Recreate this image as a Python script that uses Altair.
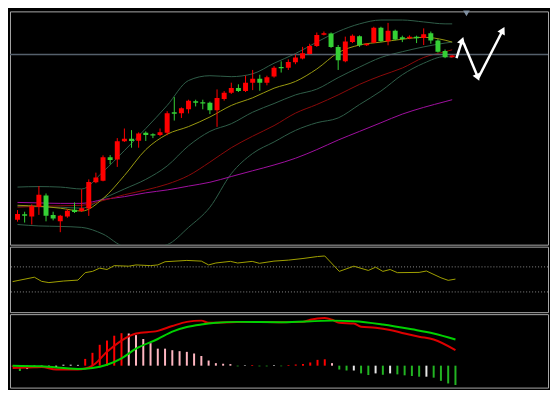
import math
import altair as alt
import pandas as pd

# ---------------- data ----------------
opens = [30,35.7,33.3,43.3,55.3,35,28.3,33.3,40.3,39,
         41.7,69,70.7,95,92.7,111.7,114.3,112.3,120.7,119,
         118.3,120.7,142,141,145,153.3,152.3,151.7,144,155.7,
         162.3,167.3,164,172.7,176.7,172.7,179.3,189,188.3,194,
         198,202.7,211,222.7,224,210,195,215,221,211.7,
         214.3,230,216,226.7,220,219,220.7,219.3,224.3,216.7,
         205.7,199.3]
closes = [36,34,44,56,34,31.3,34,39.3,38,42,
          69.3,74,95,92.3,111.7,114.3,112,119.7,118.3,117.7,
          121,141,140.3,146,154,151.7,151,144,156.7,162.3,
          167.3,164,172.7,176.7,172.7,178.3,188.3,187.7,194.3,199,
          203.3,211,222.3,224.3,210,196,215.7,221.7,211.7,213.3,
          230,216,226.7,217.7,218.3,220.7,219,223.3,216.7,205,
          199.3,201]
highs = [40,38.3,46,65,57.3,38.3,35,41,48,61.7,
         72,79,97,97.3,115,125,123.3,121,122,120,
         125,143,157.7,147,155,155,155,153,165.7,164,
         172.7,171,180,186,181,180,190,195,197,202,
         210,213.3,225,226,225,212,220.7,223,222,214,
         231,231,235,228,221.7,222,221.7,229.3,226,218,
         207.3,201.5]
lows = [28,27,25,35,28.3,29.3,17,32,37,38,
        34,68,70,87.7,85,111,105,105,112,115,
        117,118,133.3,136,140.7,148,145,140,126.7,154,
        161,163,163,165,164.3,170,178,183.3,186,192,
        197,202,210,222,209,186,194,214,210,211,
        214,215,211.7,217,215,218,214,212,213.3,204,
        198.3,199]

line_idx = [0,3,6,9,12,15,18,21,24,27,30,33,36,39,42,45,48,51,54,57,60,61]
bb_upper = [64,64.5,64,62,80,102,125,149,175,180,179,182,193,203,215,226,234,238,238,236,234,234]
ma_fast  = [45,44,42,39,52,76,103,119,127,137,149,157,167,174,187,204,212,215,218,220,217,215]
bb_mid   = [44,43.5,43,42,52,62,72,86,107,122,130,142,151,160,166,178,189,199,205,210,214,215]
ma_mid   = [43,44,44.5,45,50,56,61,67,76,90,105,117,128,141,150,160,171,180,188,199,205,207]
bb_lower = [25,23.5,23,22,15,2,0,4,22,43,78,99,111,123,131,136,150,164,181,193,200,199]
ma_slow  = [48,47.5,47,47,51,54,58,61,65,69,75,81,87,94,103,113,122,131,140,147,153,155]

hline_price = 202
marker_idx, marker_price = 63, 245

arrow_x1 = [61.6, 62.6, 64.7]
arrow_y1 = [198.3, 214, 178.3]
arrow_x2 = [62.4, 64.6, 68.1]
arrow_y2 = [216.7, 178.3, 227.3]

rsi_idx = [0,3,4,5,7,9,10,11,12,13,14,16,17,19,20,21,24,26,27,28,30,31,33,34,36,38,40,42,43,45,47,49,50,51,52,53,56,57,59,60,61]
rsi_val = [46.5,53.5,46.9,44.9,47.4,48.9,60.8,62.8,68.0,65.8,72.0,71.1,73.1,72.0,73.1,78.2,80.3,79.2,73.1,76.2,78.8,76.2,78.8,75.7,79.2,80.8,83.4,86.5,87.4,62.8,71.1,64.3,69.5,62.8,65.8,60.8,61.2,63.4,52.6,48.5,50.5]
rsi_levels = [70, 30]

hist_val = [-1,-5.5,-3.5,-1,-1,-2,-2,1,1,0.8,
            7,13.3,21.6,26,31,33.6,
            33.3,31.6,27.6,23.3,17.6,17.6,16,15,14.3,12.6,10,5.3,2.6,2,1.6,
            -0.7,0.5,0.7,-0.7,-0.7,0.6,
            -0.6,
            0.7,1.2,1.6,3.3,6,6.6,
            2.6,
            -4,-5,-5,-8,-9.7,-8,-9.4,-8,-9,-10,-10.7,-11.4,-11.4,-12.4,-15.7,-18.4,-20]
hist_col = (["r","g"] + ["w"]*8 + ["r"]*6 + ["p"]*15 + ["g","w","r","g","g","w"] + ["g"]
            + ["r"]*6 + ["p"] + ["g","g","w","g","g","w","g","w","g","g","g","g","w","g","g","g","g"])

macd_idx = [0,3,4,6,9,11,13,15,17,20,22,24,26,27,30,33,37,40,41,43,44,45,47,48,50,52,54,56,58,61]
macd_val = [-2.4,-1.7,-1.4,-4,-4,0,14.3,26,33.3,36,41,45.3,46.6,44.3,45,45.3,45,45.3,47.6,49.3,47.6,44.3,43.6,40.3,39.3,37,33.3,30,27,16]
sig_idx = [0,4,9,11,13,15,17,20,22,24,26,28,31,37,44,47,51,55,58,61]
sig_val = [0,-0.7,-3.4,-2.4,1,7.6,17.6,27.6,35.3,40,42.6,44.3,45.3,45,46.6,46,42.6,37.6,33.3,27]

time_ticks = [3, 11, 19, 27, 35, 43, 51, 59]

# ---------------- styles ----------------
CANDLE_COLORS = {"up": "#ff0000", "down": "#35d035"}
LINE_COLORS = {"bb_upper": "#2f5e49", "bb_mid": "#2f5e49", "bb_lower": "#2f5e49",
               "ma_slow": "#a010a0", "ma_mid": "#8b0a0a", "ma_fast": "#9a9a10"}
HIST_COLORS = {"r": "#ff0000", "p": "#ffb6c1", "w": "#e6e6e6", "g": "#22b422"}
MACD_COLORS = {"macd": "#dd0000", "signal": "#00d000"}

# ---------------- layout ----------------
W = 542
H_MAIN, H_RSI, H_MACD = 235, 66, 74
X_DOM = [-0.36, 73.75]
Y_MAIN = [4, 247]
Y_RSI = [-2.3, 102.3]
Y_MACD = [-22.7, 53.3]

xs = alt.Scale(domain=X_DOM, nice=False, zero=False)
ys_main = alt.Scale(domain=Y_MAIN, nice=False, zero=False)

n = len(opens)
dirs = ["up" if c >= o else "down" for o, c in zip(opens, closes)]
cdf = pd.DataFrame({
    "i": list(range(n)), "open": opens, "close": closes, "high": highs, "low": lows,
    "col": [CANDLE_COLORS[d] for d in dirs],
})

base = alt.Chart(cdf)
wicks = base.mark_rule(strokeWidth=1, clip=True).encode(
    x=alt.X("i:Q", scale=xs, axis=None),
    y=alt.Y("low:Q", scale=ys_main, axis=None), y2="high:Q",
    color=alt.Color("col:N", scale=None))
bodies = base.mark_bar(width=5, clip=True).encode(
    x=alt.X("i:Q", scale=xs, axis=None),
    y=alt.Y("open:Q", scale=ys_main, axis=None), y2="close:Q",
    color=alt.Color("col:N", scale=None))

series = {"bb_upper": bb_upper, "bb_mid": bb_mid, "bb_lower": bb_lower,
          "ma_slow": ma_slow, "ma_mid": ma_mid, "ma_fast": ma_fast}
rows = []
for name, vals in series.items():
    for k, v in zip(line_idx, vals):
        rows.append({"s": name, "i": k, "v": v, "col": LINE_COLORS[name]})
ldf = pd.DataFrame(rows)
lines = alt.Chart(ldf).mark_line(strokeWidth=1, clip=True, interpolate="monotone").encode(
    x=alt.X("i:Q", scale=xs, axis=None),
    y=alt.Y("v:Q", scale=ys_main, axis=None),
    detail="s:N",
    color=alt.Color("col:N", scale=None))

hline = alt.Chart(pd.DataFrame({"p": [hline_price]})).mark_rule(color="#55606c", strokeWidth=1.5).encode(
    y=alt.Y("p:Q", scale=ys_main, axis=None))

marker = alt.Chart(pd.DataFrame({"i": [marker_idx], "p": [marker_price]})).mark_point(
    shape="triangle-down", filled=True, size=45, color="#8090a2", opacity=1).encode(
    x=alt.X("i:Q", scale=xs, axis=None), y=alt.Y("p:Q", scale=ys_main, axis=None))

px_per_i = W / (X_DOM[1] - X_DOM[0])
px_per_p = H_MAIN / (Y_MAIN[1] - Y_MAIN[0])
angles = []
for a, b, c, d in zip(arrow_x1, arrow_y1, arrow_x2, arrow_y2):
    dx = (c - a) * px_per_i
    dy = (d - b) * px_per_p
    angles.append(math.degrees(math.atan2(dx, dy)) % 360)
adf = pd.DataFrame({"x1": arrow_x1, "y1": arrow_y1, "x2": arrow_x2, "y2": arrow_y2, "ang": angles})
arrow_lines = alt.Chart(adf).mark_rule(color="white", strokeWidth=2.5).encode(
    x=alt.X("x1:Q", scale=xs, axis=None), y=alt.Y("y1:Q", scale=ys_main, axis=None),
    x2="x2:Q", y2="y2:Q")
arrow_heads = alt.Chart(adf).mark_point(shape="triangle-up", filled=True, size=70, color="white", opacity=1).encode(
    x=alt.X("x2:Q", scale=xs, axis=None), y=alt.Y("y2:Q", scale=ys_main, axis=None),
    angle=alt.Angle("ang:Q", scale=None))

main = alt.layer(lines, hline, wicks, bodies, marker, arrow_lines, arrow_heads).properties(width=W, height=H_MAIN)

# ---------------- RSI panel ----------------
ys_rsi = alt.Scale(domain=Y_RSI, nice=False, zero=False)
rsi_line = alt.Chart(pd.DataFrame({"i": rsi_idx, "v": rsi_val})).mark_line(color="#a0a000", strokeWidth=1).encode(
    x=alt.X("i:Q", scale=xs, axis=None), y=alt.Y("v:Q", scale=ys_rsi, axis=None))
rsi_lv = alt.Chart(pd.DataFrame({"v": rsi_levels})).mark_rule(color="#8a8a8a", strokeWidth=1, strokeDash=[1, 2]).encode(
    y=alt.Y("v:Q", scale=ys_rsi, axis=None))
rsi = alt.layer(rsi_lv, rsi_line).properties(width=W, height=H_RSI)

# ---------------- MACD panel ----------------
ys_macd = alt.Scale(domain=Y_MACD, nice=False, zero=False)
hdf = pd.DataFrame({"i": list(range(n)), "v": hist_val, "col": [HIST_COLORS[c] for c in hist_col]})
hist = alt.Chart(hdf).mark_rule(strokeWidth=2).encode(
    x=alt.X("i:Q", scale=xs, axis=alt.Axis(values=time_ticks, labels=False, ticks=True, tickSize=4,
                                           tickColor="#9a9a9a", domain=False, grid=False, title=None)),
    y=alt.Y("v:Q", scale=ys_macd, axis=None), y2=alt.datum(0),
    color=alt.Color("col:N", scale=None))
mrows = [{"s": "macd", "i": k, "v": v, "col": MACD_COLORS["macd"]} for k, v in zip(macd_idx, macd_val)] + \
        [{"s": "signal", "i": k, "v": v, "col": MACD_COLORS["signal"]} for k, v in zip(sig_idx, sig_val)]
macd_lines = alt.Chart(pd.DataFrame(mrows)).mark_line(strokeWidth=2, interpolate="monotone").encode(
    x=alt.X("i:Q", scale=xs, axis=None), y=alt.Y("v:Q", scale=ys_macd, axis=None), detail="s:N",
    color=alt.Color("col:N", scale=None))
macd = alt.layer(hist, macd_lines).properties(width=W, height=H_MACD)

chart = alt.vconcat(main, rsi, macd, spacing=0).properties(
    padding={"top": 0, "left": 0, "right": 0, "bottom": 0}
).configure(background="#000000").configure_view(stroke="#a8a8a8", strokeWidth=1)

chart.save("out.html", embed_options={"renderer": "svg", "actions": False})
